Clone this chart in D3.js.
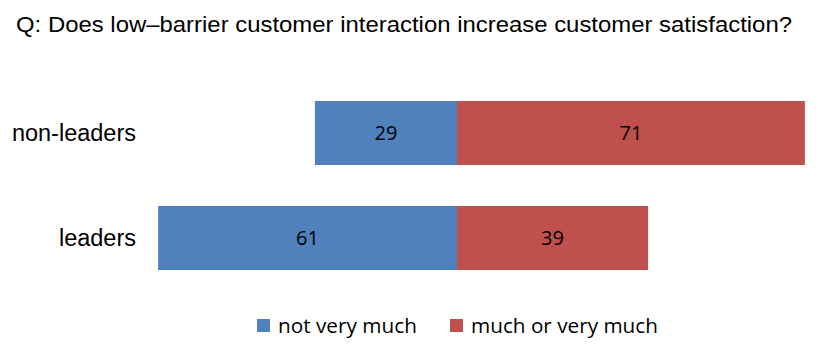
<!DOCTYPE html>
<html><head><meta charset="utf-8">
<script src="https://cdn.jsdelivr.net/npm/d3@7"></script>
<style>body{margin:0;background:#fff}</style>
</head><body>
<svg id="c" width="821" height="359"></svg>
<script>
const title = "Q: Does low\u2013barrier customer interaction increase customer satisfaction?";
const categories = ["non-leaders", "leaders"];
const seriesNames = ["not very much", "much or very much"];
const notVeryMuch = [29, 61];
const muchOrVeryMuch = [71, 39];
const colors = ["#4F81BD", "#C0504D"];

const svg = d3.select("#c");
const x = d3.scaleLinear().domain([-100, 100]).range([-33, 947]);
const y = d3.scaleBand().domain(categories).range([80.5, 290.5]).paddingInner(0.39).paddingOuter(0.195);

svg.append("text").attr("x", 16).attr("y", 31.7).attr("font-family", "Liberation Sans, Arial, sans-serif")
  .attr("font-size", 21.5).attr("fill", "#000").attr("textLength", 776).attr("lengthAdjust", "spacingAndGlyphs").text(title);

const labelFont = "'Open Sans', Carlito, Calibri, Lato, sans-serif";
categories.forEach((c, i) => {
  const yb = y(c), h = y.bandwidth();
  svg.append("rect").attr("x", x(-notVeryMuch[i])).attr("y", yb).attr("width", x(0) - x(-notVeryMuch[i])).attr("height", h).attr("fill", colors[0]);
  svg.append("rect").attr("x", x(0)).attr("y", yb).attr("width", x(muchOrVeryMuch[i]) - x(0)).attr("height", h).attr("fill", colors[1]);
  svg.append("text").attr("x", (x(-notVeryMuch[i]) + x(0)) / 2).attr("y", yb + h / 2).attr("dy", "0.36em")
    .attr("text-anchor", "middle").attr("font-family", labelFont).attr("font-size", 20).text(notVeryMuch[i]);
  svg.append("text").attr("x", (x(muchOrVeryMuch[i]) + x(0)) / 2).attr("y", yb + h / 2).attr("dy", "0.36em")
    .attr("text-anchor", "middle").attr("font-family", labelFont).attr("font-size", 20).text(muchOrVeryMuch[i]);
  svg.append("text").attr("x", 136).attr("y", yb + h / 2).attr("dy", "0.35em")
    .attr("text-anchor", "end").attr("font-family", "Liberation Sans, Arial, sans-serif").attr("font-size", 23.5).text(c);
});

const legendX = [257, 450];
const legendW = [139, 187];
seriesNames.forEach((s, i) => {
  svg.append("rect").attr("x", legendX[i]).attr("y", 319).attr("width", 13).attr("height", 13).attr("fill", colors[i]);
  const t = svg.append("text").attr("x", legendX[i] + 21).attr("y", 325.5).attr("dy", "0.35em")
    .attr("font-family", labelFont).attr("font-size", 19).text(s);
  const w = t.node().getComputedTextLength();
  t.attr("font-size", Math.min(22, 19 * legendW[i] / w));
});
</script>
</body></html>
